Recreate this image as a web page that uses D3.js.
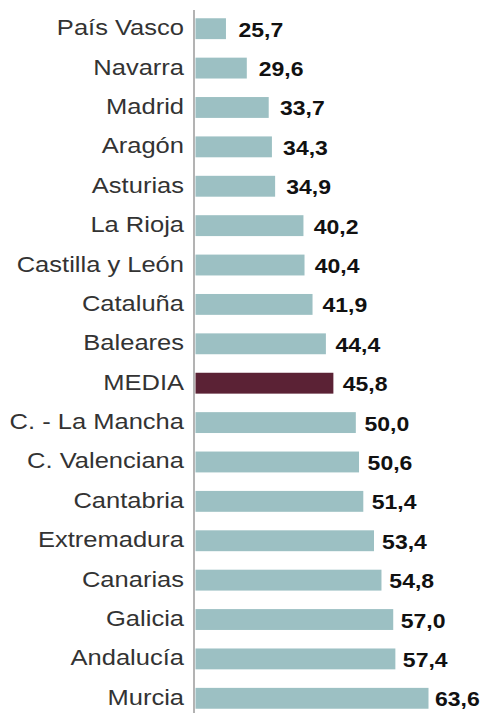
<!DOCTYPE html>
<html><head><meta charset="utf-8">
<script src="https://cdn.jsdelivr.net/npm/d3@7"></script>
<style>body{margin:0;background:#fff;}svg{display:block;}</style>
</head><body>
<svg id="c" width="486" height="713"></svg>
<script>
const categories = ["País Vasco","Navarra","Madrid","Aragón","Asturias","La Rioja","Castilla y León","Cataluña","Baleares","MEDIA","C. - La Mancha","C. Valenciana","Cantabria","Extremadura","Canarias","Galicia","Andalucía","Murcia"];
const values = [25.7,29.6,33.7,34.3,34.9,40.2,40.4,41.9,44.4,45.8,50.0,50.6,51.4,53.4,54.8,57.0,57.4,63.6];
const highlight = "MEDIA";

const svg = d3.select("#c");
const x = d3.scaleLinear().domain([20, 63.6]).range([195.5, 428.5]);
const xLabel = d3.scaleLinear().domain([25.7, 63.6]).range([238.5, 435]);
const y = d3.scaleBand().domain(categories).range([9, 718]).paddingInner(0.47).paddingOuter(0.235);
const cy = d => y(d) + y.bandwidth()/2;

svg.selectAll("rect.bar").data(categories).enter().append("rect")
  .attr("x", x(20)).attr("y", d => y(d))
  .attr("width", (d,i) => x(values[i]) - x(20))
  .attr("height", y.bandwidth())
  .attr("fill", d => d === highlight ? "#5b2235" : "#9cc0c3");

svg.append("line").attr("x1",194).attr("x2",194).attr("y1",10).attr("y2",713)
  .attr("stroke","#9a9a9a").attr("stroke-width",1.5);

svg.selectAll("text.lab").data(categories).enter().append("text")
  .attr("transform", d => `translate(184,${cy(d)+6.5}) scale(1.16,1)`)
  .attr("text-anchor","end")
  .attr("font-family","Liberation Sans, Arial, sans-serif").attr("font-size",22)
  .attr("fill","#333").text(d => d);

svg.selectAll("text.val").data(categories).enter().append("text")
  .attr("transform", (d,i) => `translate(${xLabel(values[i])},${cy(d)+8}) scale(1.15,1)`)
  .attr("font-family","Liberation Sans, Arial, sans-serif").attr("font-size",20).attr("font-weight","bold")
  .attr("fill","#111").text((d,i) => d3.format(".1f")(values[i]).replace(".", ","));
</script>
</body></html>
